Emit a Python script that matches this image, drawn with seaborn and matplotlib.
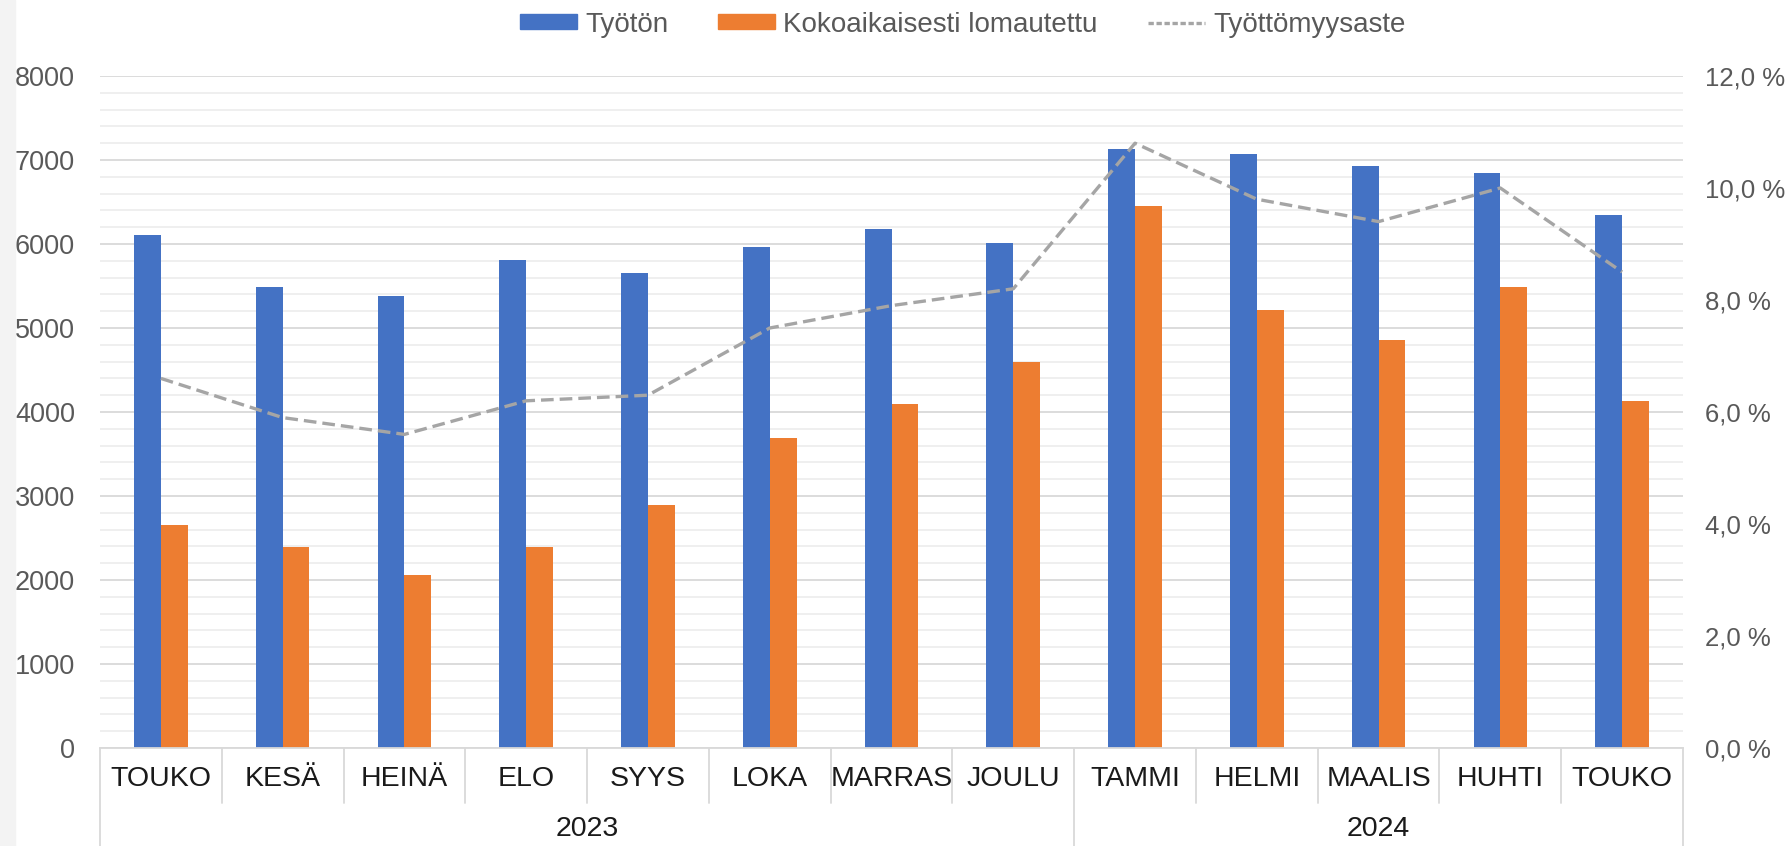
import numpy as np
import pandas as pd
import matplotlib
matplotlib.use('Agg')
import matplotlib.pyplot as plt
import matplotlib.transforms as mtransforms
from matplotlib.patches import Rectangle, Patch
from matplotlib.lines import Line2D
from matplotlib.ticker import MultipleLocator, FuncFormatter
import seaborn as sns

# Data
months = ['TOUKO', 'KESÄ', 'HEINÄ', 'ELO', 'SYYS', 'LOKA', 'MARRAS', 'JOULU',
          'TAMMI', 'HELMI', 'MAALIS', 'HUHTI', 'TOUKO']
years = ['2023'] * 8 + ['2024'] * 5
tyoton = [6110, 5490, 5375, 5810, 5650, 5970, 6175, 6010, 7135, 7070, 6930, 6840, 6350]
lomautettu = [2660, 2390, 2065, 2390, 2890, 3690, 4100, 4600, 6450, 5215, 4860, 5485, 4125]
tyottomyysaste = [6.6, 5.9, 5.6, 6.2, 6.3, 7.5, 7.9, 8.2, 10.8, 9.8, 9.4, 10.0, 8.5]

series = ['Työtön', 'Kokoaikaisesti lomautettu']
line_name = 'Työttömyysaste'
colors = ['#4472C4', '#ED7D31']
line_color = '#A5A5A5'

periods = [y + ' ' + m for y, m in zip(years, months)]
df = pd.DataFrame({
    'period': periods * 2,
    'value': tyoton + lomautettu,
    'sarja': [series[0]] * len(periods) + [series[1]] * len(periods),
})

sns.set_theme(style='white')
plt.rcParams['font.family'] = ['Liberation Sans', 'DejaVu Sans']

fig = plt.figure(figsize=(17.87, 8.46), dpi=100)
ax = fig.add_axes([100 / 1787, 98 / 846, 1583 / 1787, 672 / 846])

sns.barplot(data=df, x='period', y='value', hue='sarja', order=periods,
            palette=colors, width=0.44, saturation=1, linewidth=0, ax=ax)
if ax.get_legend() is not None:
    ax.get_legend().remove()

ax.set_xlim(-0.5, len(periods) - 0.5)
ax.set_ylim(0, 8000)
ax.yaxis.set_major_locator(MultipleLocator(1000))
ax.yaxis.set_minor_locator(MultipleLocator(200))
ax.grid(which='major', axis='y', color='#D9D9D9', lw=1.3)
ax.grid(which='minor', axis='y', color='#EEEEEE', lw=1.3)
ax.set_axisbelow(True)
ax.set_xlabel('')
ax.set_ylabel('')
ax.set_xticks(range(len(months)))
ax.set_xticklabels(months)
ax.tick_params(axis='x', length=0, pad=13, labelsize=20.5, labelcolor='#1a1a1a')
ax.tick_params(axis='y', which='both', length=0, pad=18, labelsize=19.5, labelcolor='#595959')
for s in ['top', 'right', 'left']:
    ax.spines[s].set_visible(False)
ax.spines['bottom'].set_color('#D9D9D9')
ax.spines['bottom'].set_linewidth(1.3)

# unemployment rate on the secondary axis
ax2 = ax.twinx()
sns.lineplot(x=np.arange(len(periods)), y=tyottomyysaste, ax=ax2, color=line_color,
             lw=2.4, dashes=False)
ax2.lines[0].set_dashes((3.8, 1.8))
ax2.set_ylim(0, 12)
ax2.set_yticks(np.arange(0, 13, 2))
ax2.yaxis.set_major_formatter(FuncFormatter(lambda v, p: f'{v:.1f} %'.replace('.', ',')))
ax2.tick_params(axis='y', length=0, pad=16, labelsize=18.5, labelcolor='#595959')
ax2.grid(False)
for s in ax2.spines.values():
    s.set_visible(False)

# category separators and year groups below the axis
trans = mtransforms.blended_transform_factory(ax.transData, ax.transAxes)
group_edges = [-0.5, 7.5, len(periods) - 0.5]
for b in np.arange(-0.5, len(periods)):
    low = -98 / 672 if b in group_edges else -55 / 672
    ax.plot([b, b], [0, low], transform=trans, color='#D9D9D9', lw=1.3, clip_on=False)
ax.text(3.5, -81 / 672, '2023', transform=trans, ha='center', va='center',
        fontsize=20.5, color='#1a1a1a')
ax.text(10, -81 / 672, '2024', transform=trans, ha='center', va='center',
        fontsize=20.5, color='#1a1a1a')

# legend across the top
handles = [Patch(color=colors[0]), Patch(color=colors[1]),
           Line2D([], [], color=line_color, lw=2.4, dashes=(1.6, 0.8))]
fig.legend(handles, series + [line_name], loc='center', bbox_to_anchor=(0.5386, 0.971),
           ncol=3, frameon=False, fontsize=20, handlelength=2.05, handleheight=0.47,
           handletextpad=0.3, columnspacing=1.8, labelcolor='#595959')

# grey strip along the left edge
fig.patches.append(Rectangle((0, 0), 15 / 1787, 1, transform=fig.transFigure,
                             color='#F3F3F3', zorder=10))

fig.savefig('out.png', dpi=100)
